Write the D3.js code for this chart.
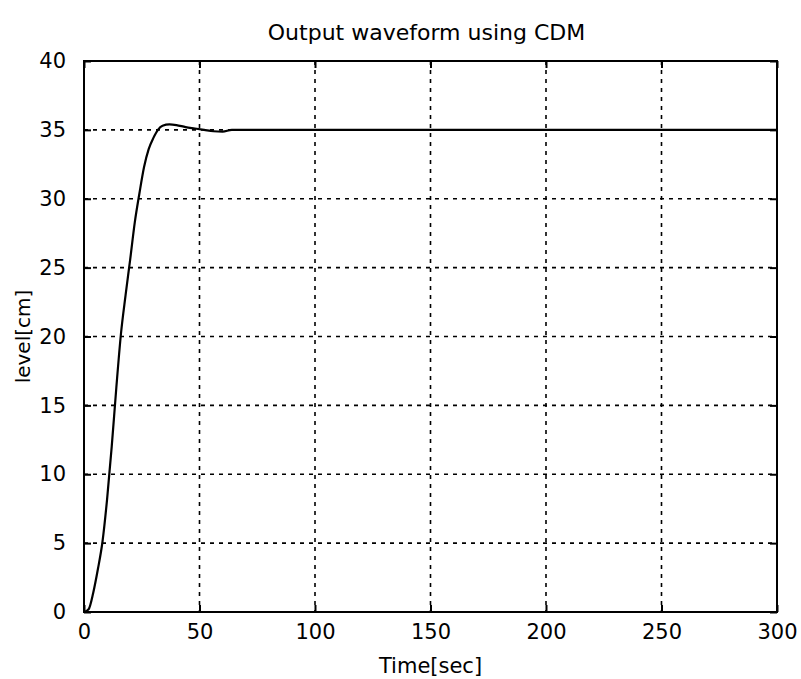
<!DOCTYPE html>
<html>
<head>
<meta charset="utf-8">
<script src="https://cdn.jsdelivr.net/npm/d3@7.9.0/dist/d3.min.js"></script>
<style>
  body { margin: 0; background: #fff; }
  svg text { font-family: "DejaVu Sans", sans-serif; fill: #000; }
</style>
</head>
<body>
<svg id="chart" width="801" height="679"></svg>
<script>
// values
const timeSec = [0, 2, 4, 6, 8, 10, 12, 14, 16, 18, 20, 22, 24, 26, 28, 30, 32, 34, 37, 40, 44, 48, 52, 56, 60, 64, 70, 100, 150, 200, 250, 300];
const levelCm = [0, 0.2, 1.4, 3.1, 5.1, 8.2, 12.0, 16.3, 20.2, 23.0, 25.6, 28.3, 30.4, 32.3, 33.6, 34.4, 35.0, 35.3, 35.4, 35.35, 35.2, 35.1, 35.0, 34.9, 34.88, 35.0, 35.0, 35.0, 35.0, 35.0, 35.0, 35.0];
const xTicks = [0, 50, 100, 150, 200, 250, 300];
const yTicks = [0, 5, 10, 15, 20, 25, 30, 35, 40];

const title = "Output waveform using CDM";
const xLabel = "Time[sec]";
const yLabel = "level[cm]";

const margin = { left: 84, right: 24, top: 61, bottom: 67 };
const width = 801, height = 679;
const innerW = width - margin.left - margin.right;
const innerH = height - margin.top - margin.bottom;

const svg = d3.select("#chart");
svg.append("rect").attr("width", width).attr("height", height).attr("fill", "#fff");

const x = d3.scaleLinear().domain([0, 300]).range([0, innerW]);
const y = d3.scaleLinear().domain([0, 40]).range([innerH, 0]);

const g = svg.append("g").attr("transform", `translate(${margin.left},${margin.top})`);

// dotted grid
g.selectAll(".vgrid").data(xTicks.slice(1, -1)).join("line")
    .attr("x1", d => x(d)).attr("x2", d => x(d))
    .attr("y1", 0).attr("y2", innerH)
    .attr("stroke", "#000").attr("stroke-width", 1.6)
    .attr("stroke-dasharray", "4,5");

g.selectAll(".hgrid").data(yTicks.slice(1, -1)).join("line")
    .attr("x1", 0).attr("x2", innerW)
    .attr("y1", d => y(d)).attr("y2", d => y(d))
    .attr("stroke", "#000").attr("stroke-width", 1.6)
    .attr("stroke-dasharray", "4,5");

// axes, ticks pointing inward like matlab
const tick = 7;
const axisB = g.append("g").attr("transform", `translate(0,${innerH})`)
    .call(d3.axisBottom(x).tickValues(xTicks).tickSizeInner(-tick).tickSizeOuter(0).tickPadding(tick + 14));
const axisL = g.append("g")
    .call(d3.axisLeft(y).tickValues(yTicks).tickSizeInner(-tick).tickSizeOuter(0).tickPadding(tick + 11));
const axisT = g.append("g")
    .call(d3.axisTop(x).tickValues(xTicks).tickSizeInner(-tick).tickSizeOuter(0).tickFormat(""));
const axisR = g.append("g").attr("transform", `translate(${innerW},0)`)
    .call(d3.axisRight(y).tickValues(yTicks).tickSizeInner(-tick).tickSizeOuter(0).tickFormat(""));

[axisB, axisL, axisT, axisR].forEach(a => {
    a.select(".domain").remove();
    a.selectAll(".tick line").attr("stroke", "#000").attr("stroke-width", 2);
    a.selectAll("text").style("font-size", "21px").attr("fill", "#000");
});
axisB.selectAll("text").attr("dy", "0.3em");

// box
g.append("rect")
    .attr("width", innerW).attr("height", innerH)
    .attr("fill", "none").attr("stroke", "#000").attr("stroke-width", 2);

// response curve
const line = d3.line()
    .x((d, i) => x(timeSec[i]))
    .y(d => y(d))
    .curve(d3.curveMonotoneX);

g.append("path")
    .datum(levelCm)
    .attr("d", line)
    .attr("fill", "none")
    .attr("stroke", "#000")
    .attr("stroke-width", 2.2);

// labels
svg.append("text")
    .attr("x", margin.left + innerW / 2 - 4)
    .attr("y", 40)
    .attr("text-anchor", "middle")
    .style("font-size", "22px")
    .text(title);

svg.append("text")
    .attr("x", margin.left + innerW / 2)
    .attr("y", 673)
    .attr("text-anchor", "middle")
    .style("font-size", "21px")
    .text(xLabel);

svg.append("text")
    .attr("transform", `translate(30,${margin.top + innerH / 2}) rotate(-90)`)
    .attr("text-anchor", "middle")
    .style("font-size", "20px")
    .text(yLabel);
</script>
</body>
</html>
